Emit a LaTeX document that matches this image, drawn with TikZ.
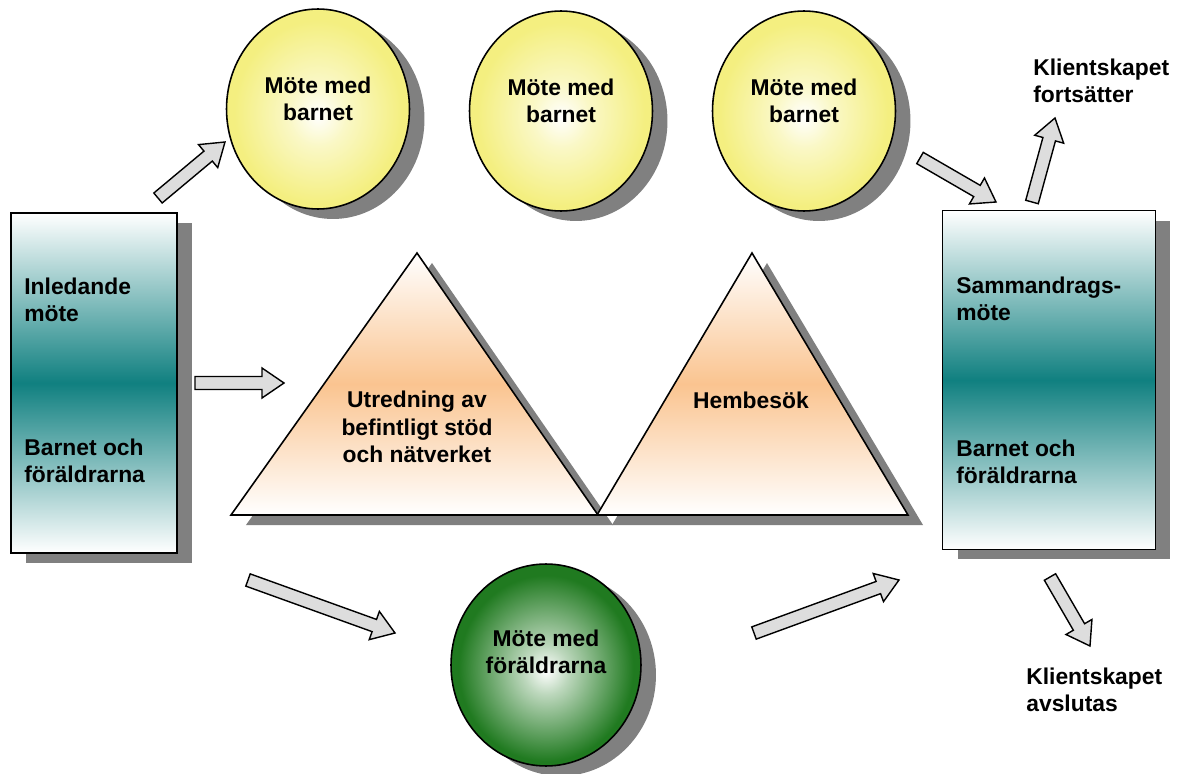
\documentclass[tikz,border=0pt]{standalone}
\usepackage{fontspec}
\setmainfont{Liberation Sans}
\usetikzlibrary{shapes.geometric,shadows,calc,positioning}

\definecolor{tealc}{RGB}{16,128,128}
\definecolor{yellowc}{RGB}{244,239,128}
\definecolor{greenc}{RGB}{32,122,32}
\definecolor{peach}{RGB}{250,196,144}
\definecolor{arrowgray}{RGB}{221,221,221}

\pgfdeclareradialshading{yellowball}{\pgfpoint{0bp}{-1.5bp}}{color(0bp)=(white); color(8bp)=(white!55!yellowc); color(23bp)=(yellowc); color(25bp)=(yellowc); color(50bp)=(yellowc)}
\pgfdeclareradialshading{greenball}{\pgfpoint{0bp}{-1.5bp}}{color(0bp)=(white); color(6bp)=(white!70!greenc); color(23bp)=(greenc); color(25bp)=(greenc); color(50bp)=(greenc)}

\newcommand{\shaftw}{0.13cm}
\newcommand{\headw}{0.3cm}
\newcommand{\headlen}{0.44cm}
\newcommand{\blockarrow}[2]{%
	\coordinate (ah) at ($(#2)!\headlen!(#1)$);
	\draw [barrow] ($(#1)!\shaftw!90:(#2)$) -- ($(ah)!\shaftw!90:(#2)$) -- ($(ah)!\headw!90:(#2)$) -- (#2)
		-- ($(ah)!\headw!-90:(#2)$) -- ($(ah)!\shaftw!-90:(#2)$) -- ($(#1)!\shaftw!-90:(#2)$) -- cycle;}

\begin{document}
\begin{tikzpicture}
	[x=0.02cm, y=-0.02cm, inner sep=0pt,
	font=\bfseries\fontsize{13}{15.5}\selectfont,
	shadowed/.style	= {drop shadow={shadow xshift=0.3cm, shadow yshift=-0.2cm, opacity=1, fill=black!50}},
	box/.style		= {rectangle, draw, line width=0.9pt, top color=white, bottom color=white, middle color=tealc, minimum width=3.32cm, minimum height=6.8cm, shadowed},
	yball/.style	= {ellipse, draw, line width=0.9pt, shade, shading=yellowball, minimum width=3.66cm, minimum height=4cm, shadowed},
	gball/.style	= {ellipse, draw, line width=0.9pt, shade, shading=greenball, minimum width=3.8cm, minimum height=4.04cm, shadowed},
	tri/.style		= {draw, line width=0.9pt, line join=miter, top color=white, bottom color=white, middle color=peach, shadowed},
	btext/.style	= {anchor=west, align=left},
	ctext/.style	= {align=center},
	barrow/.style	= {draw, line width=0.8pt, fill=arrowgray, line join=miter}]
	
	\useasboundingbox (0,0) rectangle (1181,774);
	
	\node at (94, 383)		[box]		(start)	{};
	\node at (1049, 380)	[box, minimum width=4.26cm, minimum height=6.78cm]	(summ)	{};
	
	\node at (24, 300)		[btext]		(start1)	{Inledande\\möte};
	\node at (24, 461)		[btext]		(start2)	{Barnet och\\föräldrarna};
	\node at (956, 299)		[btext]		(summ1)		{Sammandrags-\\möte};
	\node at (956, 462)		[btext]		(summ2)		{Barnet och\\föräldrarna};
	
	\node at (318, 109)		[yball]		(barn1)	{};
	\node at (561, 111)		[yball]		(barn2)	{};
	\node at (804, 111)		[yball]		(barn3)	{};
	\node at (546, 665)		[gball]		(foral)	{};
	
	\node at ([yshift=0.2cm]barn1.center)	[ctext]	(barn1t)	{Möte med\\barnet};
	\node at ([yshift=0.2cm]barn2.center)	[ctext]	(barn2t)	{Möte med\\barnet};
	\node at ([yshift=0.2cm]barn3.center)	[ctext]	(barn3t)	{Möte med\\barnet};
	\node at ([yshift=0.26cm]foral.center)	[ctext]	(foralt)	{Möte med\\föräldrarna};
	
	\draw [tri] (417, 253) -- (598, 515) -- (231, 515) -- cycle;
	\draw [tri] (752, 253) -- (908, 515) -- (597, 515) -- cycle;
	\node at (417, 427)		[ctext]		(utr)	{Utredning av\\befintligt stöd\\och nätverket};
	\node at (751, 400)		[ctext]		(hem)	{Hembesök};
	
	\node at (1033, 81)		[btext]		(fort)	{Klientskapet\\fortsätter};
	\node at (1026, 690)	[btext]		(avsl)	{Klientskapet\\avslutas};
	
	\coordinate (a1s) at (158, 198);	\coordinate (a1e) at (225, 142);
	\coordinate (a2s) at (195, 383);	\coordinate (a2e) at (284, 383);
	\coordinate (a3s) at (248, 580);	\coordinate (a3e) at (395, 633);
	\coordinate (a4s) at (754, 633);	\coordinate (a4e) at (899, 580);
	\coordinate (a5s) at (920, 158);	\coordinate (a5e) at (996, 202);
	\coordinate (a6s) at (1032, 202);	\coordinate (a6e) at (1055, 118);
	\coordinate (a7s) at (1050, 577);	\coordinate (a7e) at (1090, 646);
	
	\blockarrow{a1s}{a1e}
	\blockarrow{a2s}{a2e}
	\blockarrow{a3s}{a3e}
	\blockarrow{a4s}{a4e}
	\blockarrow{a5s}{a5e}
	\blockarrow{a6s}{a6e}
	\blockarrow{a7s}{a7e}
	
\end{tikzpicture}
\end{document}
